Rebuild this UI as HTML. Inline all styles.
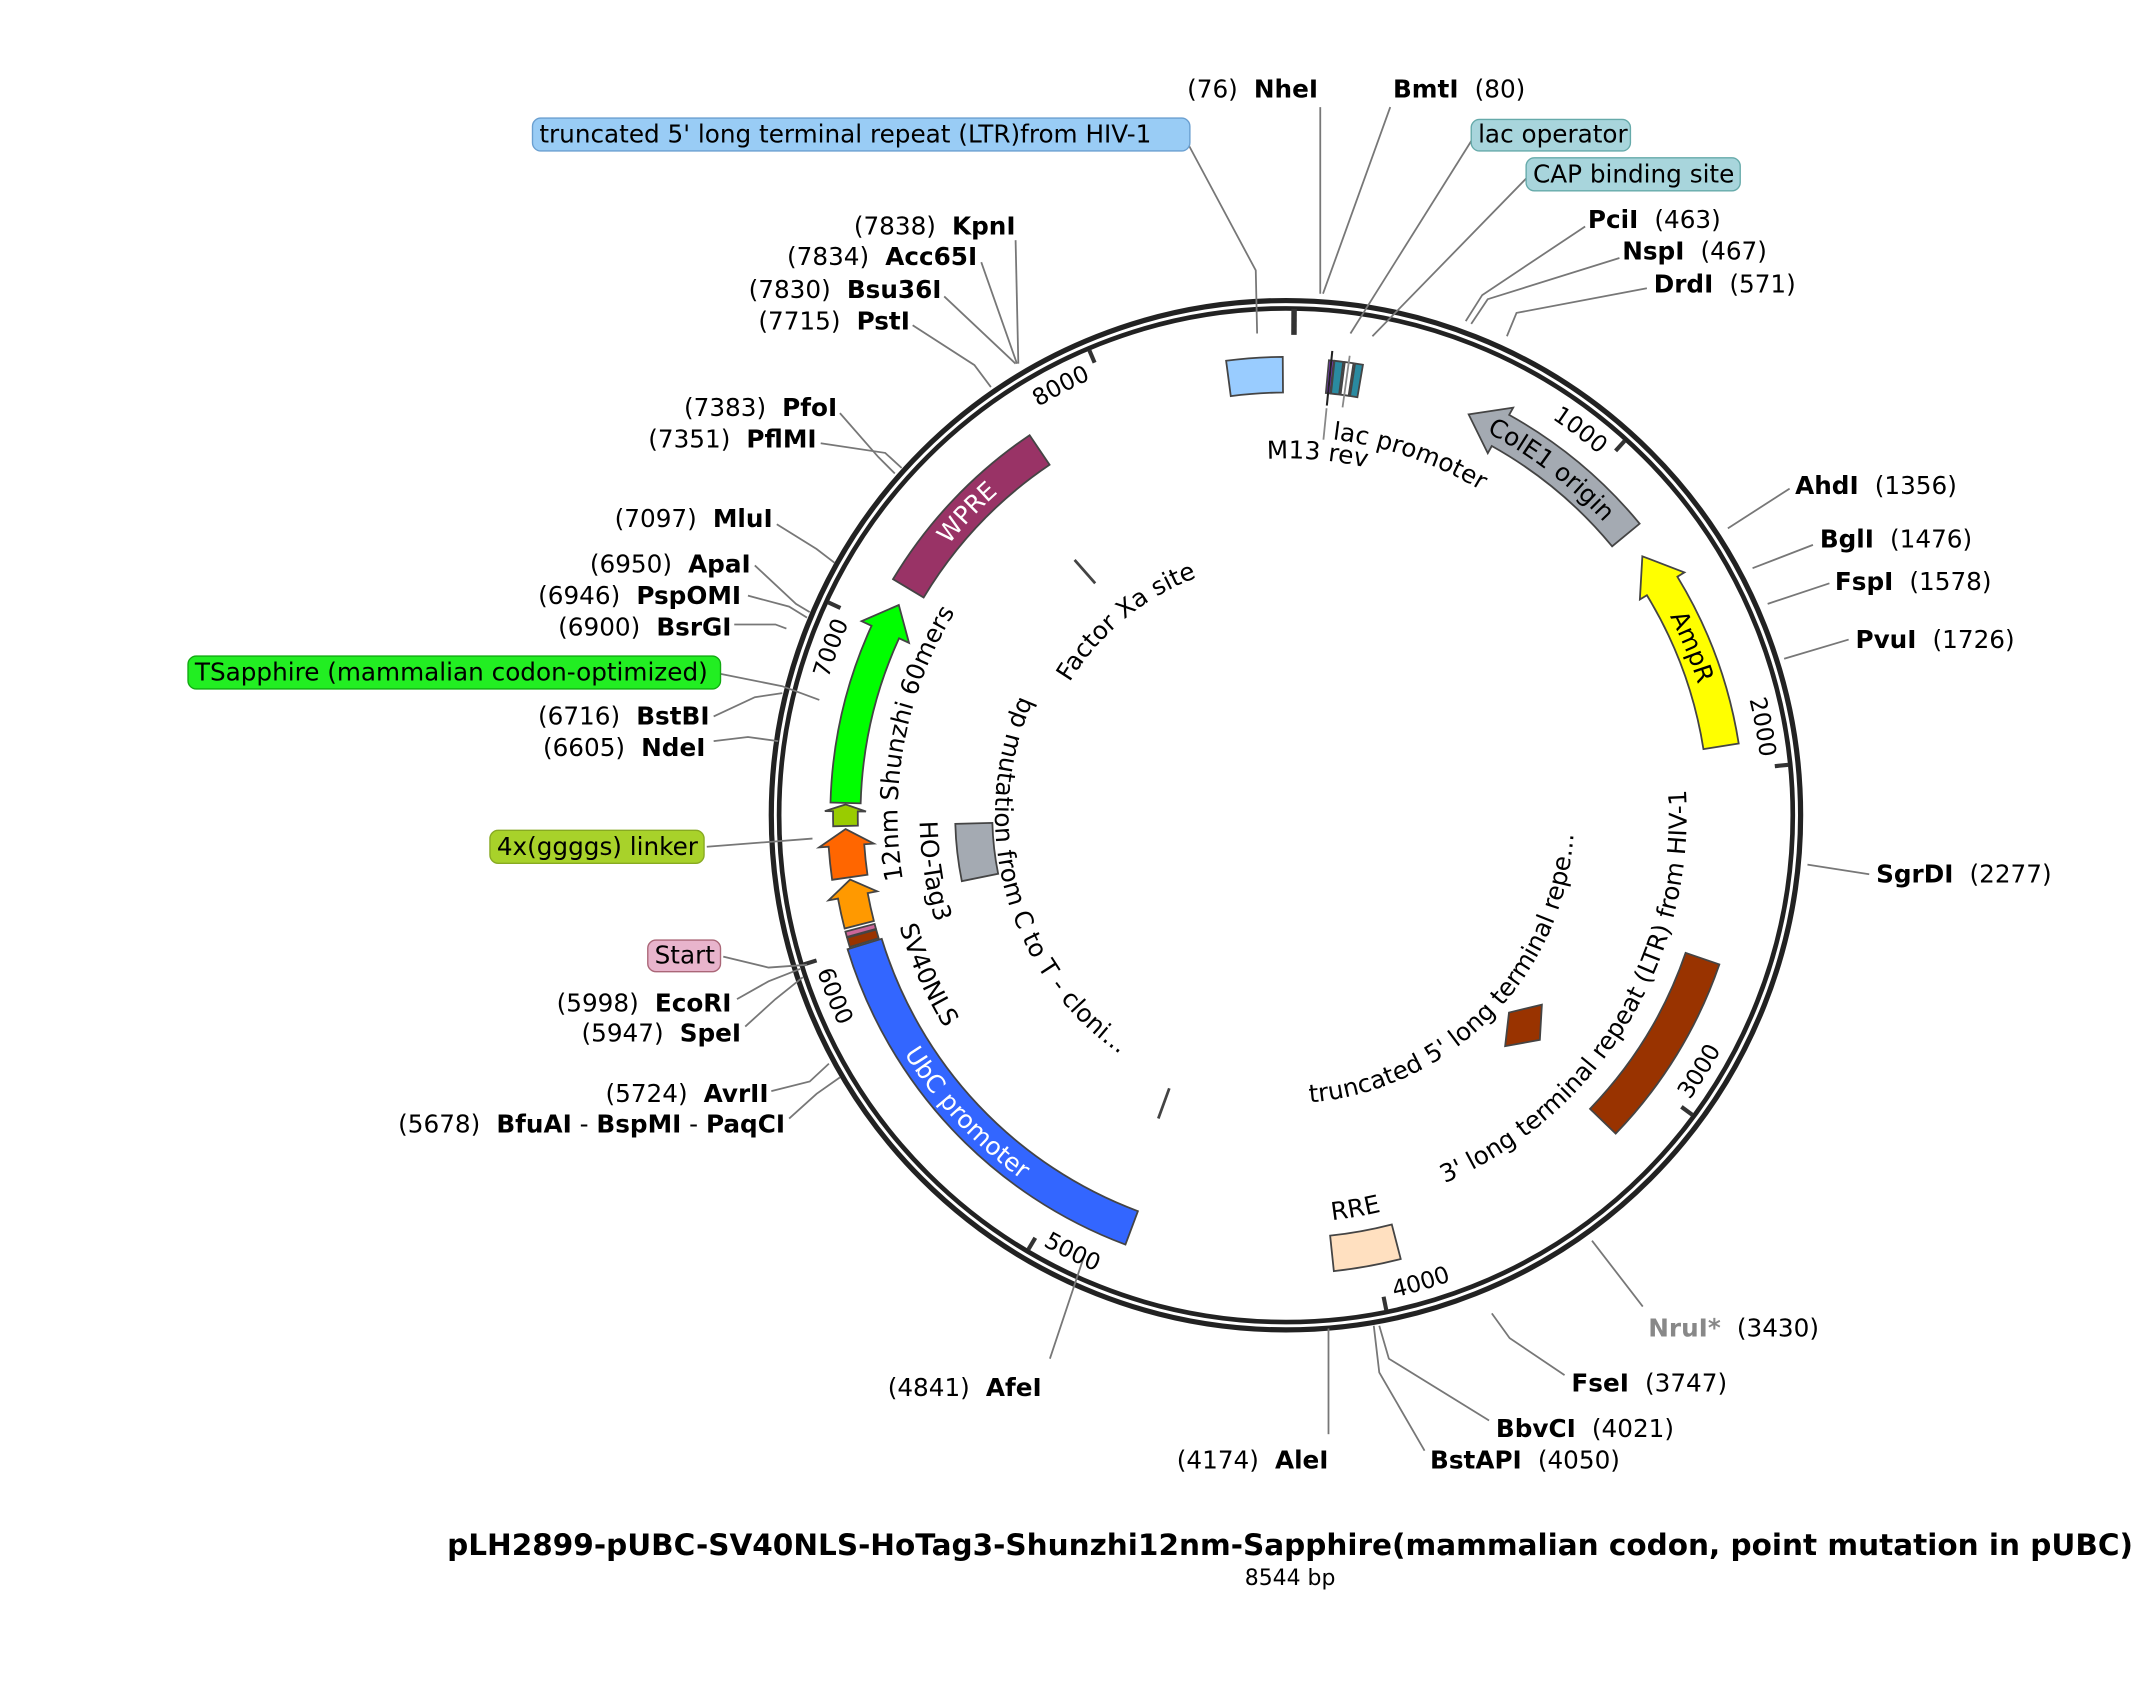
<!DOCTYPE html>
<html><head><meta charset="utf-8"><style>
html,body{margin:0;padding:0;background:#fff;}
svg{display:block;font-family:"DejaVu Sans","Liberation Sans",sans-serif;}
.l{font-size:18px;fill:#000;}
.b{font-weight:bold;}
.c{font-size:18px;}
.tk{font-size:17px;}
.ln{stroke:#777;stroke-width:1.3;fill:none;}
</style></head><body>
<svg id="s" width="2154" height="1687" viewBox="0 0 1569.5 1229.2" xmlns="http://www.w3.org/2000/svg">
<defs id="d"></defs>
<g id="feat"></g>
<circle cx="937" cy="594" r="375" fill="none" stroke="#222" stroke-width="3.8"/>
<circle cx="937" cy="594" r="369.3" fill="none" stroke="#222" stroke-width="3.4"/>
<g id="ticks"></g>

<g class="ln">
<polyline points="962,214 962,78"/>
<polyline points="964,214 1013,78"/>
<polyline points="984,243 1075,98"/>
<polyline points="1000,245 1115,127"/>
<polyline points="1068,234 1080,215 1155,165"/>
<polyline points="1072,236 1084,218 1180,188"/>
<polyline points="1098,245 1105,228 1200,210"/>
<polyline points="916,243 915,197 862,98"/>
<polyline points="742,265 740,175"/>
<polyline points="741,265 715,191"/>
<polyline points="740,265 688,216"/>
<polyline points="722,282 710,266 665,237"/>
<polyline points="652,345 640,333 612,301"/>
<polyline points="657,341 645,330 598,323"/>
<polyline points="608,410 595,400 566,382"/>
<polyline points="590,446 580,440 550,412"/>
<polyline points="588,450 575,442 545,434"/>
<polyline points="573,458 565,455 535,455"/>
<polyline points="597,510 570,500 520,490"/>
<polyline points="570,505 550,508 520,522"/>
<polyline points="567,540 545,537 520,540"/>
<polyline points="592,611 515,617"/>
<polyline points="588,703 560,705 527,697"/>
<polyline points="583,706 560,715 537,728"/>
<polyline points="585,712 565,728 543,748"/>
<polyline points="604,775 590,788 562,795"/>
<polyline points="612,785 595,797 575,815"/>
<polyline points="790,915 765,990"/>
<polyline points="968,968 968,1045"/>
<polyline points="1001,966 1005,1000 1038,1057"/>
<polyline points="1005,966 1012,990 1085,1035"/>
<polyline points="1087,957 1100,975 1140,1002"/>
<polyline points="1160,904 1197,952"/>
<polyline points="1317,630 1362,637"/>
<polyline points="1300,480 1347,466"/>
<polyline points="1288,440 1333,425"/>
<polyline points="1277,414 1321,397"/>
<polyline points="1259,385 1304,356"/>
</g>
<line x1="783" y1="408" x2="798" y2="425" stroke="#444" stroke-width="2"/>
<line x1="852" y1="793" x2="844" y2="815" stroke="#444" stroke-width="2"/>

<rect x="388" y="86" width="479" height="24" rx="6" fill="#99ccf5" stroke="#6a9fd0"/>
<text x="393" y="104" class="l">truncated 5' long terminal repeat (LTR)from HIV-1</text>
<rect x="1072" y="87" width="116" height="23" rx="6" fill="#a8d5dc" stroke="#6aa"/>
<text x="1077" y="104" class="l">lac operator</text>
<rect x="1112" y="115" width="156" height="24" rx="6" fill="#a8d5dc" stroke="#6aa"/>
<text x="1117" y="133" class="l">CAP binding site</text>
<rect x="137" y="478" width="388" height="24" rx="6" fill="#22ee22" stroke="#1a1"/>
<text x="142" y="496" class="l">TSapphire (mammalian codon-optimized)</text>
<rect x="357" y="605" width="156" height="24" rx="6" fill="#a8d22a" stroke="#8a2"/>
<text x="362" y="623" class="l">4x(ggggs) linker</text>
<rect x="472" y="685" width="53" height="23" rx="6" fill="#e8b4cc" stroke="#a67"/>
<text x="477" y="702" class="l">Start</text>

<g class="l">
<text x="865" y="71">(76) <tspan class="b" dx="6">NheI</tspan></text>
<text x="1015" y="71"><tspan class="b">BmtI</tspan> <tspan dx="6">(80)</tspan></text>
<text x="1157" y="166"><tspan class="b">PciI</tspan> <tspan dx="6">(463)</tspan></text>
<text x="1182" y="189"><tspan class="b">NspI</tspan> <tspan dx="6">(467)</tspan></text>
<text x="1205" y="213"><tspan class="b">DrdI</tspan> <tspan dx="6">(571)</tspan></text>
<text x="1308" y="360"><tspan class="b">AhdI</tspan> <tspan dx="6">(1356)</tspan></text>
<text x="1326" y="399"><tspan class="b">BglI</tspan> <tspan dx="6">(1476)</tspan></text>
<text x="1337" y="430"><tspan class="b">FspI</tspan> <tspan dx="6">(1578)</tspan></text>
<text x="1352" y="472"><tspan class="b">PvuI</tspan> <tspan dx="6">(1726)</tspan></text>
<text x="1367" y="643"><tspan class="b">SgrDI</tspan> <tspan dx="6">(2277)</tspan></text>
<text x="1201" y="974"><tspan class="b" fill="#888">NruI*</tspan> <tspan dx="6">(3430)</tspan></text>
<text x="1145" y="1014"><tspan class="b">FseI</tspan> <tspan dx="6">(3747)</tspan></text>
<text x="1090" y="1047"><tspan class="b">BbvCI</tspan> <tspan dx="6">(4021)</tspan></text>
<text x="1042" y="1070"><tspan class="b">BstAPI</tspan> <tspan dx="6">(4050)</tspan></text>
<text x="968" y="1070" text-anchor="end">(4174) <tspan class="b" dx="6">AleI</tspan></text>
<text x="759" y="1017" text-anchor="end">(4841) <tspan class="b" dx="6">AfeI</tspan></text>
<text x="572" y="825" text-anchor="end">(5678) <tspan class="b" dx="6">BfuAI</tspan> - <tspan class="b">BspMI</tspan> - <tspan class="b">PaqCI</tspan></text>
<text x="560" y="803" text-anchor="end">(5724) <tspan class="b" dx="6">AvrII</tspan></text>
<text x="540" y="759" text-anchor="end">(5947) <tspan class="b" dx="6">SpeI</tspan></text>
<text x="533" y="737" text-anchor="end">(5998) <tspan class="b" dx="6">EcoRI</tspan></text>
<text x="514" y="551" text-anchor="end">(6605) <tspan class="b" dx="6">NdeI</tspan></text>
<text x="517" y="528" text-anchor="end">(6716) <tspan class="b" dx="6">BstBI</tspan></text>
<text x="533" y="463" text-anchor="end">(6900) <tspan class="b" dx="6">BsrGI</tspan></text>
<text x="540" y="440" text-anchor="end">(6946) <tspan class="b" dx="6">PspOMI</tspan></text>
<text x="547" y="417" text-anchor="end">(6950) <tspan class="b" dx="6">ApaI</tspan></text>
<text x="563" y="384" text-anchor="end">(7097) <tspan class="b" dx="6">MluI</tspan></text>
<text x="595" y="326" text-anchor="end">(7351) <tspan class="b" dx="6">PflMI</tspan></text>
<text x="610" y="303" text-anchor="end">(7383) <tspan class="b" dx="6">PfoI</tspan></text>
<text x="663" y="240" text-anchor="end">(7715) <tspan class="b" dx="6">PstI</tspan></text>
<text x="686" y="217" text-anchor="end">(7830) <tspan class="b" dx="6">Bsu36I</tspan></text>
<text x="712" y="193" text-anchor="end">(7834) <tspan class="b" dx="6">Acc65I</tspan></text>
<text x="740" y="171" text-anchor="end">(7838) <tspan class="b" dx="6">KpnI</tspan></text>
</g>

<g class="c">
<text><textPath href="#p_wpre" startOffset="50%" text-anchor="middle" fill="#fff">WPRE</textPath></text>
<text><textPath href="#p_amp" startOffset="50%" text-anchor="middle">AmpR</textPath></text>
<text><textPath href="#p_cole" startOffset="50%" text-anchor="middle">ColE1 origin</textPath></text>
<text><textPath href="#p_ubc" startOffset="50%" text-anchor="middle" fill="#fff">UbC promoter</textPath></text>
<text><textPath href="#p_lac" startOffset="50%" text-anchor="middle">lac promoter</textPath></text>
<text><textPath href="#p_m13" startOffset="50%" text-anchor="middle">M13 rev</textPath></text>
<text><textPath href="#p_fxa" startOffset="50%" text-anchor="middle">Factor Xa site</textPath></text>
<text><textPath href="#p_bp" startOffset="50%" text-anchor="middle">bp mutation from C to T - cloni...</textPath></text>
<text><textPath href="#p_tr5" startOffset="50%" text-anchor="middle">truncated 5' long terminal repe...</textPath></text>
<text><textPath href="#p_ltr3" startOffset="50%" text-anchor="middle">3' long terminal repeat (LTR) from HIV-1</textPath></text>
<text><textPath href="#p_rre" startOffset="50%" text-anchor="middle">RRE</textPath></text>
<text><textPath href="#p_12" startOffset="50%" text-anchor="middle">12nm Shunzhi 60mers</textPath></text>
<text><textPath href="#p_ho" startOffset="50%" text-anchor="middle">HO-Tag3</textPath></text>
<text><textPath href="#p_sv" startOffset="50%" text-anchor="middle">SV40NLS</textPath></text>
</g>
<g class="tk">
<text><textPath href="#t1" startOffset="100%" text-anchor="end">1000</textPath></text>
<text><textPath href="#t2" startOffset="100%" text-anchor="end">2000</textPath></text>
<text><textPath href="#t3" startOffset="0%" text-anchor="start">3000</textPath></text>
<text><textPath href="#t4" startOffset="0%" text-anchor="start">4000</textPath></text>
<text><textPath href="#t5" startOffset="0%" text-anchor="start">5000</textPath></text>
<text><textPath href="#t6" startOffset="0%" text-anchor="start">6000</textPath></text>
<text><textPath href="#t7" startOffset="100%" text-anchor="end">7000</textPath></text>
<text><textPath href="#t8" startOffset="100%" text-anchor="end">8000</textPath></text>
</g>

<text x="940" y="1133" text-anchor="middle" style="font-size:21.5px;font-weight:bold">pLH2899-pUBC-SV40NLS-HoTag3-Shunzhi12nm-Sapphire(mammalian codon, point mutation in pUBC)</text>
<text x="940" y="1155" text-anchor="middle" style="font-size:16px">8544 bp</text>
</svg>
<script>
(function(){
var CX=937,CY=594,NS="http://www.w3.org/2000/svg";
function pt(r,a){var t=a*Math.PI/180;return [CX+r*Math.sin(t),CY-r*Math.cos(t)];}
function f(p){return p[0].toFixed(2)+","+p[1].toFixed(2);}
function arc(r,a1,a2,cw){
  var large=Math.abs(a2-a1)>180?1:0;
  return "M"+f(pt(r,a1))+" A"+r+","+r+" 0 "+large+","+(cw?1:0)+" "+f(pt(r,a2));
}
var defs=document.getElementById("d"),feat=document.getElementById("feat"),ticks=document.getElementById("ticks");
function addPath(id,d){var p=document.createElementNS(NS,"path");p.setAttribute("id",id);p.setAttribute("d",d);p.setAttribute("fill","none");defs.appendChild(p);}
function cwP(id,r,mid,span){addPath(id,arc(r,mid-span/2,mid+span/2,true));}
function ccwP(id,r,mid,span){addPath(id,arc(r,mid+span/2,mid-span/2,false));}
function shape(d,fill){var p=document.createElementNS(NS,"path");p.setAttribute("d",d);p.setAttribute("fill",fill);p.setAttribute("stroke","#444");p.setAttribute("stroke-width","1.3");feat.appendChild(p);}
function box(a1,a2,r1,r2,fill){
  shape(arc(r2,a1,a2,true)+" L"+f(pt(r1,a2))+" A"+r1+","+r1+" 0 "+(a2-a1>180?1:0)+",0 "+f(pt(r1,a1))+" Z",fill);
}
function arrow(a1,a2,r1,r2,fill,dir,hpx,fl){
  var rm=(r1+r2)/2,h=hpx/rm*180/Math.PI;h=Math.min(h,(a2-a1)*0.6);
  var d;
  if(dir==="cw"){
    var b=a2-h;
    d=arc(r2,a1,b,true)+" L"+f(pt(r2+fl,b))+" L"+f(pt(rm,a2))+" L"+f(pt(r1-fl,b))+" L"+f(pt(r1,b))+" A"+r1+","+r1+" 0 0,0 "+f(pt(r1,a1))+" Z";
  }else{
    var b=a1+h;
    d="M"+f(pt(rm,a1))+" L"+f(pt(r2+fl,b))+" L"+f(pt(r2,b))+" A"+r2+","+r2+" 0 0,1 "+f(pt(r2,a2))+" L"+f(pt(r1,a2))+" A"+r1+","+r1+" 0 0,0 "+f(pt(r1,b))+" L"+f(pt(r1-fl,b))+" Z";
  }
  shape(d,fill);
}
var R1=308,R2=334;
box(352.5,359.6,R1,R2,"#99ccff");
box(5.4,6.0,R1+1,R2-1,"#9933ff");
box(6.1,7.2,R1+1,R2-1,"#2a8aa0");
box(7.4,8.5,R1+1,R2-1,"#ffffff");
box(8.7,9.7,R1+1,R2-1,"#2a8aa0");
arrow(24.5,50.5,R1,R2,"#a4aab2","ccw",26,6);
arrow(54,81,R1,R2,"#ffff00","ccw",26,6);
box(109,134,R1,R2,"#993300");
box(165.5,174,R1,R2,"#ffe0c0");
box(200.5,253,R1,R2,"#3366ff");
box(253.2,254.4,R1+2,R2-2,"#993300");
box(254.5,255.2,R1+2,R2-2,"#cc6699");
arrow(255.6,261.6,R1+2,R2-2,"#ff9900","cw",12,7);
arrow(261.9,268.2,R1,R2,"#ff6600","cw",12,7);
arrow(268.6,271.4,R1+4,R2-4,"#99cc00","cw",5,6);
arrow(271.6,298.5,R1+2,R2-2,"#00ff00","cw",22,8);
box(301,326,R1,R2,"#993366");
box(258.5,268.5,214,241,"#a4aab2");
shape("M"+f(pt(232,126.5))+" L"+f(pt(247,131.5))+" L"+f(pt(232,136.5))+" L"+f(pt(217,131.5))+" Z","#993300");
[1000,2000,3000,4000,5000,6000,7000,8000].forEach(function(bp){
  var a=bp/8544*360,p1=pt(358,a),p2=pt(368,a);
  var l=document.createElementNS(NS,"line");l.setAttribute("x1",p1[0]);l.setAttribute("y1",p1[1]);l.setAttribute("x2",p2[0]);l.setAttribute("y2",p2[1]);l.setAttribute("stroke","#333");l.setAttribute("stroke-width","3");ticks.appendChild(l);
  var id="t"+(bp/1000);
  if(a<90||a>270){addPath(id,arc(348,a-40,a-1.2,true));}
  else{addPath(id,arc(360,a-1.2,a-40,false));}
});
var t0=[pt(350,0.3),pt(369,0.3)];
var l0=document.createElementNS(NS,"line");l0.setAttribute("x1",t0[0][0]+4);l0.setAttribute("y1",t0[0][1]);l0.setAttribute("x2",t0[1][0]+4);l0.setAttribute("y2",t0[1][1]);l0.setAttribute("stroke","#333");l0.setAttribute("stroke-width","4");ticks.appendChild(l0);
cwP("p_wpre",315,313.5,40);
cwP("p_amp",315,67.5,40);
cwP("p_cole",315,37.5,50);
ccwP("p_ubc",328,227,70);
cwP("p_lac",276,19,60);
cwP("p_m13",260,5,50);
cwP("p_fxa",185,320.5,70);
ccwP("p_bp",212,254.5,160);
ccwP("p_tr5",210,134.5,160);
ccwP("p_ltr3",292,121.5,140);
ccwP("p_rre",297,170,30);
cwP("p_12",283,281,90);
ccwP("p_ho",267,261,50);
ccwP("p_sv",293,246,50);
function ln(a,r1,r2,c,w){var p1=pt(r1,a),p2=pt(r2,a);var l=document.createElementNS(NS,"line");l.setAttribute("x1",p1[0]);l.setAttribute("y1",p1[1]);l.setAttribute("x2",p2[0]);l.setAttribute("y2",p2[1]);l.setAttribute("stroke",c);l.setAttribute("stroke-width",w);feat.appendChild(l);}
ln(5.7,300,340,"#222",1.5);ln(7.9,300,338,"#888",1.3);ln(5.7,275,298,"#888",1.3);
})();
</script>
</body></html>
